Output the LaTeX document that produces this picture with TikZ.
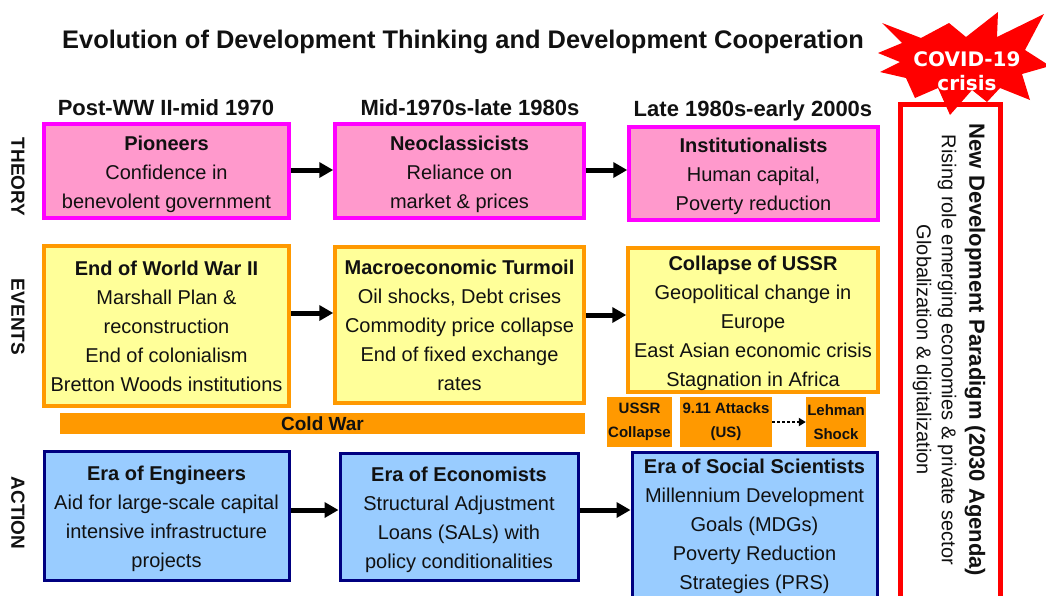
\documentclass[tikz,border=0pt]{standalone}
\usepackage{fontspec}
\setmainfont{Liberation Sans}
\newfontfamily\verdfont{DejaVu Sans}
\usetikzlibrary{arrows.meta}
\definecolor{pinkfill}{HTML}{FF99CC}
\definecolor{pinkline}{HTML}{FF00FF}
\definecolor{yelfill}{HTML}{FFFF99}
\definecolor{orng}{HTML}{FF9900}
\definecolor{bluefill}{HTML}{99CCFF}
\definecolor{navyline}{HTML}{000080}
\definecolor{redc}{HTML}{FF0000}
\definecolor{txt}{HTML}{111111}
\newcommand\upstrut{\rule{0pt}{20.5pt}}
\begin{document}
\begin{tikzpicture}[x=1pt,y=-1pt,
  box/.style={line width=3.5pt, align=center, inner sep=0pt, text=txt,
    font=\fontsize{20}{29}\selectfont},
  theo/.style={box, draw=pinkline, fill=pinkfill},
  evnt/.style={box, draw=orng, fill=yelfill},
  actn/.style={box, line width=3pt, draw=navyline, fill=bluefill},
  small/.style={fill=orng, align=center, inner sep=0pt, text=txt,
    font=\bfseries\fontsize{15}{24}\selectfont},
  rowlab/.style={rotate=-90, text=txt, font=\bfseries\fontsize{19}{22}\selectfont},
  colhead/.style={text=txt, font=\bfseries\fontsize{22}{26}\selectfont},
  arr/.style={line width=5pt, draw=black, -{Triangle[length=14pt,width=15pt]}},
]
\useasboundingbox (0,0) rectangle (1046,595);
\fill[white] (0,0) rectangle (1046,595);

% title
\node[text=txt, font=\bfseries\fontsize{25.4}{30}\selectfont] (title) at (463,42)
  {Evolution of Development Thinking and Development Cooperation};

% column headers
\node[colhead] (h1) at (166,108) {Post-WW II-mid 1970};
\node[colhead] (h2) at (470,108) {Mid-1970s-late 1980s};
\node[colhead] (h3) at (753,111) {Late 1980s-early 2000s};

% row labels
\node[rowlab] (lth) at (18,177) {THEORY};
\node[rowlab] (lev) at (18,317) {EVENTS};
\node[rowlab] (lac) at (18,513) {ACTION};

% theory
\node[theo, minimum width=245, minimum height=94] (t1) at (166.5,171)
  {\upstrut\textbf{Pioneers}\\Confidence in\\benevolent government};
\node[theo, minimum width=249, minimum height=94] (t2) at (459.5,171)
  {\upstrut\textbf{Neoclassicists}\\Reliance on\\market \& prices};
\node[theo, minimum width=249, minimum height=93] (t3) at (753.5,173.5)
  {\upstrut\textbf{Institutionalists}\\Human capital,\\Poverty reduction};

% events
\node[evnt, minimum width=245, minimum height=160] (e1) at (166.5,326)
  {\textbf{End of World War II}\\Marshall Plan \&\\reconstruction\\End of colonialism\\Bretton Woods institutions};
\node[evnt, minimum width=249, minimum height=156] (e2) at (459.5,325)
  {\textbf{Macroeconomic Turmoil}\\Oil shocks, Debt crises\\Commodity price collapse\\End of fixed exchange\\rates};
\node[evnt, minimum width=250, minimum height=144] (e3) at (753,320)
  {\upstrut\textbf{Collapse of USSR}\\Geopolitical change in\\Europe\\East Asian economic crisis\\Stagnation in Africa};

% cold war and small event boxes
\node[small, font=\bfseries\fontsize{19}{22}\selectfont, minimum width=525, minimum height=21] (cw) at (322.5,423.5) {Cold War};
\node[small, minimum width=65, minimum height=50] (ussr) at (639.5,422) {USSR\\Collapse};
\node[small, minimum width=92, minimum height=50] (nine) at (726,422) {9.11 Attacks\\(US)};
\node[small, minimum width=60, minimum height=50] (lehm) at (836,422) {Lehman\\Shock};
\draw[line width=2.5pt, dash pattern=on 2.5pt off 2.5pt, -{Triangle[length=7pt,width=8pt]}] (nine.east) -- (lehm.west);

% action
\node[actn, minimum width=245, minimum height=129] (a1) at (166.5,515.5)
  {\upstrut\textbf{Era of Engineers}\\Aid for large-scale capital\\intensive infrastructure\\projects};
\node[actn, minimum width=238, minimum height=127] (a2) at (459,516.5)
  {\upstrut\textbf{Era of Economists}\\Structural Adjustment\\Loans (SALs) with\\policy conditionalities};
\node[actn, minimum width=245, minimum height=148] (a3) at (754.5,526)
  {\textbf{Era of Social Scientists}\\Millennium Development\\Goals (MDGs)\\Poverty Reduction\\Strategies (PRS)};

% arrows
\draw[arr] ([yshift=1pt]t1.east) -- ([yshift=1pt]t2.west);
\draw[arr] ([yshift=1pt]t2.east) -- ([yshift=3.5pt]t3.west);
\draw[arr] ([yshift=13pt]e1.east) -- ([yshift=12pt]e2.west);
\draw[arr] ([yshift=10pt]e2.east) -- ([yshift=5pt]e3.west);
\draw[arr] ([yshift=5.5pt]a1.east) -- ([yshift=6.5pt]a2.west);
\draw[arr] ([yshift=6.5pt]a2.east) -- ([yshift=16pt]a3.west);

% new paradigm box
\node[draw=redc, line width=5pt, fill=white, minimum width=100, minimum height=501, inner sep=0pt] (ndp) at (950.5,354.5) {};
\node[rotate=-90, text=txt, font=\bfseries\fontsize{22}{26}\selectfont] (ndp1) at (975,350) {New Development Paradigm (2030 Agenda)};
\node[rotate=-90, text=txt, font=\fontsize{20}{24}\selectfont] (ndp2) at (947,350) {Rising role emerging economies \& private sector};
\node[rotate=-90, text=txt, font=\fontsize{20}{24}\selectfont] (ndp3) at (922,350) {Globalization \& digitalization};

% starburst
\fill[redc] (882,23) -- (921,38) -- (949,23) -- (966,37) -- (998,12) -- (997,37)
  -- (1044,14) -- (1025,50) -- (1050,66) -- (1022,74) -- (1030,100) -- (1000,88)
  -- (987,102) -- (972,90) -- (950,115) -- (938,88) -- (915,98) -- (906,78)
  -- (880,72) -- (900,62) -- (878,53) -- (902,43) -- cycle;
\node[text=white, align=center, inner sep=0pt, font=\verdfont\bfseries\fontsize{20}{24}\selectfont] (covid) at (967,71) {COVID-19\\crisis};
\end{tikzpicture}
\end{document}
